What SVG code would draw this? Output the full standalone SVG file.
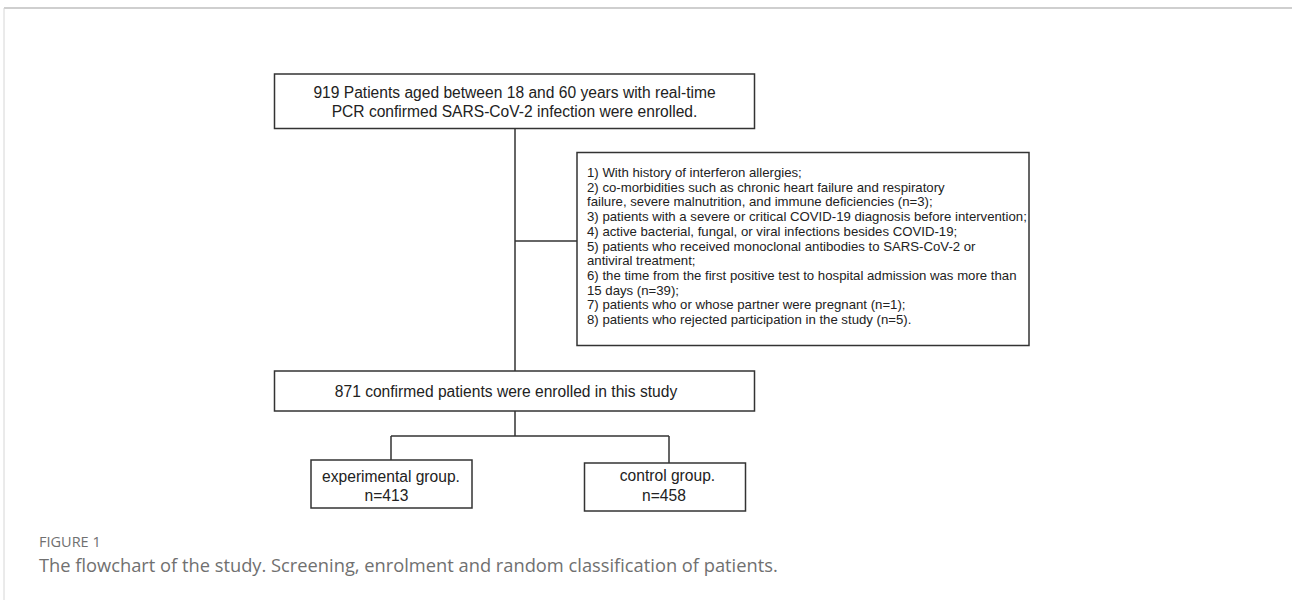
<svg xmlns="http://www.w3.org/2000/svg" width="1292" height="600" viewBox="0 0 1292 600">
<style>
.box{fill:#fff;stroke:#333;stroke-width:1.5}
.t{font-family:"Liberation Sans",Arial,sans-serif;font-size:15.6px;fill:#222}
.m{text-anchor:middle}
.s{font-family:"Liberation Sans",Arial,sans-serif;font-size:13.2px;fill:#222}
.c{fill:none;stroke:#333;stroke-width:1.5}
.cap{font-family:"Open Sans",sans-serif;fill:#707070}
</style>
<rect width="1292" height="600" fill="#fff"/>
<line x1="4" y1="8" x2="1292" y2="8" stroke="#cfcfcf" stroke-width="2"/>
<line x1="4" y1="8" x2="4" y2="600" stroke="#d6d6d6" stroke-width="1"/>
<g id="connectors">
<path class="c" d="M515 129 V371"/>
<path class="c" d="M515 241 H577"/>
<path class="c" d="M515 411 V436 M391 436 H669 M391 436 V460 M669 436 V463"/>
</g>
<g id="enrolled">
<rect class="box" x="274.5" y="74" width="480" height="54.5"/>
<text class="t m" x="514.5" y="97.5">919 Patients aged between 18 and 60 years with real-time</text>
<text class="t m" x="514.5" y="117">PCR confirmed SARS-CoV-2 infection were enrolled.</text>
</g>
<g id="excluded">
<rect class="box" x="577" y="152.5" width="452" height="193"/>
<text class="s" x="587">
<tspan x="587" y="177">1) With history of interferon allergies;</tspan>
<tspan x="587" y="191.7">2) co-morbidities such as chronic heart failure and respiratory</tspan>
<tspan x="587" y="206.4">failure, severe malnutrition, and immune deficiencies (n=3);</tspan>
<tspan x="587" y="221.1">3) patients with a severe or critical COVID-19 diagnosis before intervention;</tspan>
<tspan x="587" y="235.8">4) active bacterial, fungal, or viral infections besides COVID-19;</tspan>
<tspan x="587" y="250.5">5) patients who received monoclonal antibodies to SARS-CoV-2 or</tspan>
<tspan x="587" y="265.2">antiviral treatment;</tspan>
<tspan x="587" y="279.9">6) the time from the first positive test to hospital admission was more than</tspan>
<tspan x="587" y="294.6">15 days (n=39);</tspan>
<tspan x="587" y="309.3">7) patients who or whose partner were pregnant (n=1);</tspan>
<tspan x="587" y="324">8) patients who rejected participation in the study (n=5).</tspan>
</text>
</g>
<g id="confirmed">
<rect class="box" x="274.5" y="371" width="480" height="40"/>
<text class="t m" x="506" y="397">871 confirmed patients were enrolled in this study</text>
</g>
<g id="experimental">
<rect class="box" x="311" y="460" width="161" height="48"/>
<text class="t m" x="391" y="482">experimental group.</text>
<text class="t m" x="386.5" y="501">n=413</text>
</g>
<g id="control">
<rect class="box" x="584.5" y="463" width="161" height="48"/>
<text class="t m" x="667.5" y="481">control group.</text>
<text class="t m" x="664" y="501">n=458</text>
</g>
<text class="cap" x="39" y="547" font-size="14.5">FIGURE 1</text>
<text class="cap" x="39" y="572" font-size="18.3">The flowchart of the study. Screening, enrolment and random classification of patients.</text>
</svg>
